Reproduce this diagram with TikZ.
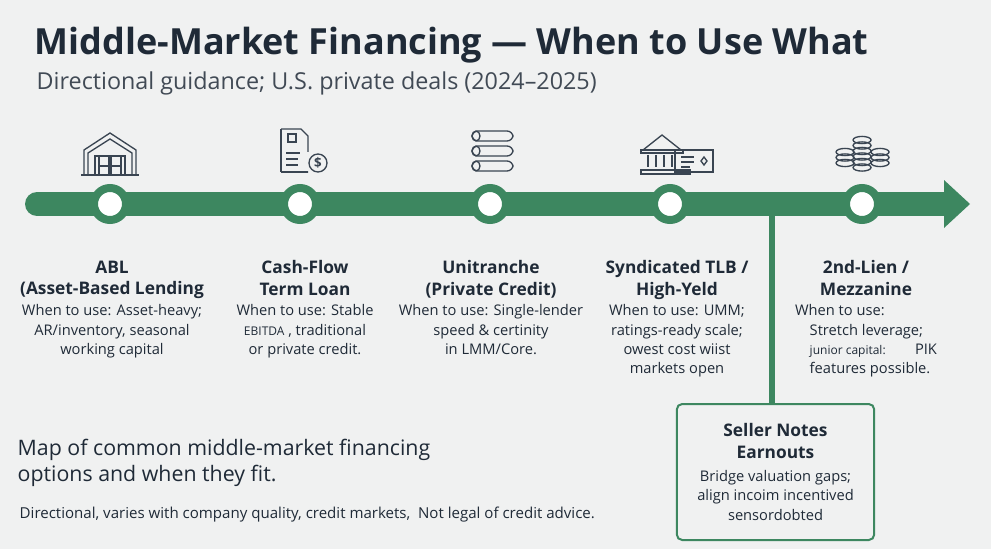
\documentclass[tikz,border=0pt]{standalone}
\usepackage{fontspec}
\setmainfont{Open Sans}
\usetikzlibrary{positioning,arrows.meta}
\definecolor{bargreen}{HTML}{3D8760}
\definecolor{ink}{HTML}{1F2A37}
\definecolor{paper}{HTML}{F0F1F1}
\definecolor{iconink}{HTML}{3A4552}
\begin{document}
\begin{tikzpicture}[x=0.75pt,y=-0.75pt,
    stop/.style={circle,draw=bargreen,line width=6pt,fill=white,minimum size=24pt,inner sep=0pt},
    head/.style={font=\bfseries\fontsize{13}{16}\selectfont,text=ink,align=center},
    body/.style={font=\fontsize{11}{14.5}\selectfont,text=ink,align=center},
    icon/.style={draw=iconink,line width=1pt}]
  \fill[paper] (0,0) rectangle (991,549);
  \useasboundingbox (0,0) rectangle (991,549);
  % title
  \node[anchor=base west,font=\bfseries\fontsize{27}{30}\selectfont,text=ink] (title) at (30,55) {Middle-Market Financing — When to Use What};
  \node[anchor=base west,font=\fontsize{17.5}{20}\selectfont,text=ink!85] (sub) at (32,90) {Directional guidance; U.S. private deals (2024–2025)};
  % timeline
  \coordinate (barL) at (37,204);
  \coordinate (barR) at (948,204);
  \draw[bargreen,line width=18pt,line cap=round] (barL) -- (barR);
  \fill[bargreen] (944,180) -- (970,204) -- (944,228) -- cycle;
  \coordinate (drop) at (772,204);
  \node[draw=bargreen,line width=1.5pt,rounded corners=4pt,minimum width=148pt,minimum height=102pt] (seller) at (775.5,472) {};
  \draw[bargreen,line width=4pt] (drop) -- (seller.north -| drop);
  \foreach \n/\x in {abl/110,cf/300,uni/490,tlb/670,mez/862}
    \node[stop] (\n) at (\x,204) {};
  % icons
  \begin{scope}[icon]
    % warehouse
    \draw (84,175) -- (84,150) -- (110,133) -- (136,150) -- (136,175);
    \draw (88,175) -- (88,153) -- (110,139) -- (132,153) -- (132,175);
    \draw (81,175) -- (139,175);
    \draw (95,175) rectangle (125,156);
    \draw (99,166) rectangle (109,156) (111,166) rectangle (121,156) (99,175) rectangle (109,166) (111,175) rectangle (121,166);
    % document
    \draw (281,129) -- (301,129) -- (308,136) -- (308,152);
    \draw (308,172) -- (281,172) -- cycle;
    \draw (281,129) -- (281,172);
    \draw (286,153) -- (300,153) (286,159) -- (298,159) (286,165) -- (298,165);
    \draw (288,134) rectangle (296,142);
    \draw (318,163) circle (9);
    \node[font=\bfseries\fontsize{10}{10}\selectfont,text=iconink] (dollar) at (318,163) {\$};
    % stacks
    \foreach \y in {136,151,166}{
      \draw[rounded corners=4.5pt] (472,\y-5) rectangle (513,\y+5);
      \draw (476,\y) ellipse (4 and 5);}
    % bank
    \draw (643,150) -- (662,135) -- (681,150) -- cycle;
    \draw (641,150) rectangle (683,153);
    \foreach \x in {648,656,664,672} \draw (\x,155) -- (\x,167);
    \draw (641,170) rectangle (690,174);
    \draw (675,150) rectangle (713,172);
    \draw (681,157) -- (694,157) (681,162) -- (694,162) (681,167) -- (690,167);
    \draw (704,157) -- (707,161) -- (704,165) -- (701,161) -- cycle;
    % coins
    \foreach \cx/\n/\top in {845/3/152,862/6/140,880/3/152}
      \foreach \k in {1,...,\n}
        \draw (\cx,\top+5.5*\k-5.5) ellipse (9 and 3.6);
  \end{scope}
  % labels
  \node[head,anchor=north] (ablh) at (112,256) {ABL\\(Asset-Based Lending};
  \node[body,anchor=north] (ablb) at (112,300) {When to use: Asset-heavy;\\AR/inventory, seasonal\\working capital};
  \node[head,anchor=north] (cfh) at (305,256) {Cash-Flow\\Term Loan};
  \node[body,anchor=north] (cfb) at (305,300) {When to use: Stable\\{\fontsize{9}{10}\selectfont EBITDA} , traditional\\or private credit.};
  \node[head,anchor=north] (unih) at (491,256) {Unitranche\\(Private Credit)};
  \node[body,anchor=north] (unib) at (491,300) {When to use: Single-lender\\speed \& certinity\\in LMM/Core.};
  \node[head,anchor=north] (tlbh) at (677,256) {Syndicated TLB /\\High-Yeld};
  \node[body,anchor=north] (tlbb) at (677,300) {When to use: UMM;\\ratings-ready scale;\\owest cost wiist\\markets open};
  \node[head,anchor=north] (mezh) at (866,256) {2nd-Lien /\\Mezzanine};
  \node[body,anchor=north,align=left] (mezb) at (866,300) {When to use:\\\quad Stretch leverage;\\\quad{\fontsize{9}{10}\selectfont junior capital:}\qquad PIK\\\quad features possible.};
  \node[head,anchor=north] (sellh) at (seller.north) [yshift=-12pt] {Seller Notes\\Earnouts};
  \node[body,below=2pt of sellh] (sellb) {Bridge valuation gaps;\\align incoim incentived\\sensordobted};
  % notes
  \node[anchor=north west,align=left,font=\fontsize{16}{20}\selectfont,text=ink] (map) at (13,434) {Map of common middle-market financing\\options and when they fit.};
  \node[anchor=base west,font=\fontsize{11.3}{13}\selectfont,text=ink] (note) at (15,518) {Directional, varies with company quality, credit markets,\ \ Not legal of credit advice.};
\end{tikzpicture}
\end{document}
